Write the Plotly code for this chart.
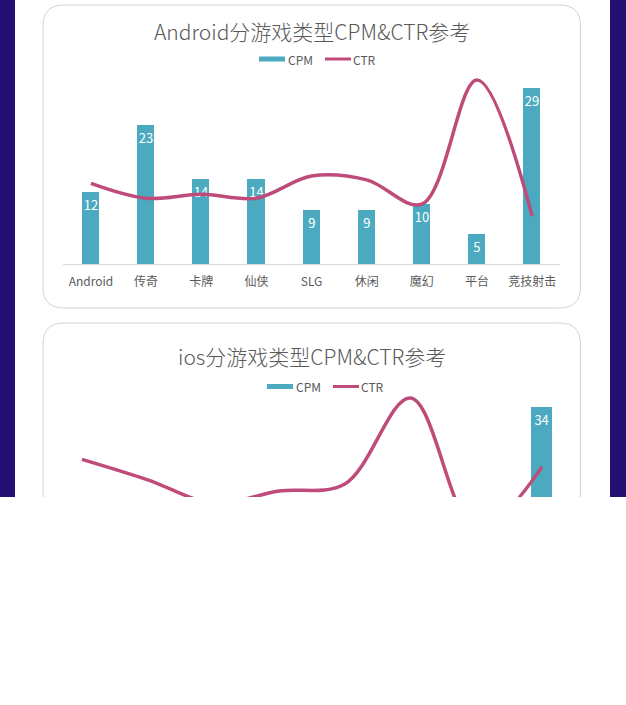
import plotly.graph_objects as go

W, H = 626, 705

# ---------------- data ----------------
android_categories = ["Android", "传奇", "卡牌", "仙侠", "SLG", "休闲", "魔幻", "平台", "竞技射击"]
android_cpm = [12, 23, 14, 14, 9, 9, 10, 5, 29]
android_ctr = [1.90, 1.55, 1.64, 1.55, 2.07, 1.98, 1.41, 4.33, 1.13]

ios_categories = ["iOS", "传奇", "卡牌", "仙侠", "SLG", "休闲", "魔幻", "竞技射击"]
ios_cpm = [14, 16, 12, 15, 11, 9, 13, 34]
ios_ctr = [2.99, 2.50, 1.94, 2.23, 2.40, 4.46, 1.30, 2.81]

titles = ["Android分游戏类型CPM&CTR参考", "ios分游戏类型CPM&CTR参考"]
series_names = ["CPM", "CTR"]

# ---------------- style ----------------
BAR_COLOR = "#4BAAC0"
LINE_COLOR = "#BF4B7A"
TEXT_COLOR = "#595959"
DARK = "#240F73"
FONT = "Noto Sans CJK SC"


def fx(px):
    return px / W


def fy(py):
    return 1 - py / H


def rrect(x0, y0, x1, y1, r):
    pts = [
        f"M {fx(x0 + r)},{fy(y0)}",
        f"L {fx(x1 - r)},{fy(y0)}",
        f"Q {fx(x1)},{fy(y0)} {fx(x1)},{fy(y0 + r)}",
        f"L {fx(x1)},{fy(y1 - r)}",
        f"Q {fx(x1)},{fy(y1)} {fx(x1 - r)},{fy(y1)}",
        f"L {fx(x0 + r)},{fy(y1)}",
        f"Q {fx(x0)},{fy(y1)} {fx(x0)},{fy(y1 - r)}",
        f"L {fx(x0)},{fy(y0 + r)}",
        f"Q {fx(x0)},{fy(y0)} {fx(x0 + r)},{fy(y0)}",
        "Z",
    ]
    return " ".join(pts)


fig = go.Figure()

bar_common = dict(
    marker=dict(color=BAR_COLOR, line=dict(width=0)),
    textposition="inside",
    insidetextanchor="end",
    textangle=0,
    constraintext="none",
    textfont=dict(color="white", size=13, family=FONT),
    showlegend=False,
    hoverinfo="skip",
)
line_common = dict(
    mode="lines",
    line=dict(color=LINE_COLOR, width=3.5, shape="spline", smoothing=1.0),
    showlegend=False,
    hoverinfo="skip",
)

fig.add_trace(go.Bar(x=android_categories, y=android_cpm, text=android_cpm,
                     width=0.31, xaxis="x", yaxis="y", name=series_names[0], **bar_common))
fig.add_trace(go.Scatter(x=android_categories, y=android_ctr,
                         xaxis="x", yaxis="y2", name=series_names[1], **line_common))
fig.add_trace(go.Bar(x=ios_categories, y=ios_cpm, text=ios_cpm,
                     width=0.32, xaxis="x2", yaxis="y3", name=series_names[0], **bar_common))
fig.add_trace(go.Scatter(x=ios_categories, y=ios_ctr,
                         xaxis="x2", yaxis="y4", name=series_names[1], **line_common))

xcommon = dict(
    type="category",
    showline=True,
    linecolor="#D9D9D9",
    linewidth=1,
    ticks="",
    ticklabelstandoff=7,
    showgrid=False,
    zeroline=False,
    tickfont=dict(size=12, color=TEXT_COLOR, family=FONT),
    fixedrange=True,
)

fig.update_layout(
    width=W,
    height=H,
    margin=dict(l=0, r=0, t=0, b=0),
    paper_bgcolor="white",
    plot_bgcolor="rgba(0,0,0,0)",
    bargap=0,
    xaxis=dict(domain=[fx(63.4), fx(559.7)], anchor="y",
               range=[-0.5, len(android_categories) - 0.5], **xcommon),
    yaxis=dict(domain=[fy(264), fy(51.6)], range=[0, 35], visible=False, anchor="x"),
    yaxis2=dict(overlaying="y", range=[0, 5], visible=False, anchor="x"),
    xaxis2=dict(domain=[fx(49.1), fx(574.9)], anchor="y3",
                range=[-0.5, len(ios_categories) - 0.5], **xcommon),
    yaxis3=dict(domain=[fy(584), fy(375.6)], range=[0, 40], visible=False, anchor="x2"),
    yaxis4=dict(overlaying="y3", range=[0, 5], visible=False, anchor="x2"),
)

shapes = []
# dark side strips
shapes.append(dict(type="rect", xref="paper", yref="paper", x0=fx(0), x1=fx(15), y0=fy(497), y1=fy(0),
                   fillcolor=DARK, line=dict(width=0), layer="below"))
shapes.append(dict(type="rect", xref="paper", yref="paper", x0=fx(610), x1=fx(626), y0=fy(497), y1=fy(0),
                   fillcolor=DARK, line=dict(width=0), layer="below"))
# cards
for (y0, y1) in [(5, 308), (323, 640)]:
    shapes.append(dict(type="path", xref="paper", yref="paper", path=rrect(43, y0, 580.5, y1, 21),
                       fillcolor="white", line=dict(color="#D2D2D2", width=1), layer="below"))

annotations = []
# titles and manual legends
for title, ty, ly, lx in [(titles[0], 31, 59, 259), (titles[1], 356, 386.5, 267)]:
    annotations.append(dict(text=title, xref="paper", yref="paper", x=fx(311.5), y=fy(ty),
                            xanchor="center", yanchor="middle", showarrow=False,
                            font=dict(size=21, color=TEXT_COLOR, family=FONT, weight=300)))
    # CPM swatch
    shapes.append(dict(type="line", xref="paper", yref="paper", x0=fx(lx), x1=fx(lx + 26),
                       y0=fy(ly), y1=fy(ly), line=dict(color=BAR_COLOR, width=5), layer="below"))
    annotations.append(dict(text=series_names[0], xref="paper", yref="paper", x=fx(lx + 27), y=fy(ly),
                            xanchor="left", yanchor="middle", showarrow=False,
                            font=dict(size=12, color=TEXT_COLOR, family=FONT)))
    # CTR swatch
    shapes.append(dict(type="line", xref="paper", yref="paper", x0=fx(lx + 66), x1=fx(lx + 92),
                       y0=fy(ly), y1=fy(ly), line=dict(color=LINE_COLOR, width=3), layer="below"))
    annotations.append(dict(text=series_names[1], xref="paper", yref="paper", x=fx(lx + 92), y=fy(ly),
                            xanchor="left", yanchor="middle", showarrow=False,
                            font=dict(size=12, color=TEXT_COLOR, family=FONT)))

# white area where the screenshot is cut off
shapes.append(dict(type="rect", xref="paper", yref="paper", x0=0, x1=1, y0=0, y1=fy(497),
                   fillcolor="white", line=dict(width=0), layer="above"))

fig.update_layout(shapes=shapes, annotations=annotations)

fig.write_html(
    "out.html",
    config={"displayModeBar": False},
    post_script="document.body.style.margin='0px';document.body.style.overflow='hidden';",
)
